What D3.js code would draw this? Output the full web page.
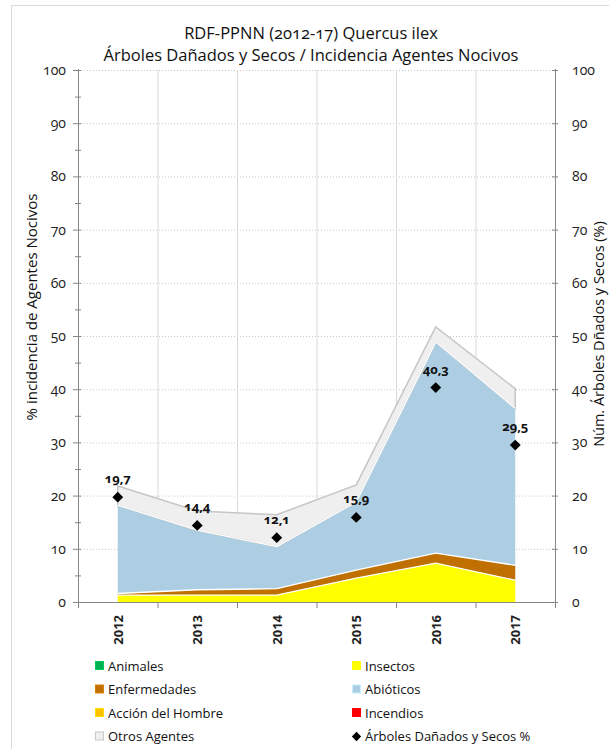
<!DOCTYPE html>
<html>
<head>
<meta charset="utf-8">
<script src="https://cdn.jsdelivr.net/npm/d3@7"></script>
<style>
  html, body { margin: 0; padding: 0; background: #fff; }
  svg { display: block; font-family: "Open Sans", sans-serif; }
  .onum { font-variant-numeric: oldstyle-nums; }
</style>
</head>
<body>
<svg id="chart" width="609" height="749"></svg>
<script>
// ---------- data ----------
const years = ["2012", "2013", "2014", "2015", "2016", "2017"];
const animales     = [0, 0, 0, 0, 0, 0];
const insectos     = [1.3, 1.3, 1.3, 4.5, 7.3, 4.1];
const enfermedades = [0.3, 1.0, 1.2, 1.5, 1.9, 2.8];
const accionHombre = [0, 0, 0, 0, 0, 0];
const incendios    = [0, 0, 0, 0, 0, 0];
const abioticos    = [16.6, 11.2, 7.9, 12.8, 39.7, 29.5];
const otrosAgentes = [3.6, 3.6, 6.0, 3.2, 2.8, 3.7];
const danadosSecos = [19.7, 14.4, 12.1, 15.9, 40.3, 29.5];
const yTickValues  = [0, 10, 20, 30, 40, 50, 60, 70, 80, 90, 100];
const yMinorValues = [5, 15, 25, 35, 45, 55, 65, 75, 85, 95];

const titleLines = ["RDF-PPNN (2012-17) Quercus ilex", "Árboles Dañados y Secos / Incidencia Agentes Nocivos"];
const leftTitle = "% incidencia de Agentes Nocivos";
const rightTitle = "Núm. Árboles Dñados y Secos (%)";

const series = [
  { key: "Animales", values: animales, color: "#00b050" },
  { key: "Insectos", values: insectos, color: "#ffff00" },
  { key: "Enfermedades", values: enfermedades, color: "#c07000" },
  { key: "Acción del Hombre", values: accionHombre, color: "#ffc000" },
  { key: "Incendios", values: incendios, color: "#ff0000" },
  { key: "Abióticos", values: abioticos, color: "#adcee2" },
  { key: "Otros Agentes", values: otrosAgentes, color: "#efefef" }
];
const legendOrder = [
  ["Animales", "Insectos"],
  ["Enfermedades", "Abióticos"],
  ["Acción del Hombre", "Incendios"],
  ["Otros Agentes", "Árboles Dañados y Secos %"]
];

(function () {
// ---------- layout ----------
const svg = d3.select("#chart");
const pLeft = 78, pRight = 555, pTop = 70, pBottom = 602;

// outer border
svg.append("rect").attr("x", 11.5).attr("y", 5.5).attr("width", 700).attr("height", 800)
  .attr("fill", "#fff").attr("stroke", "#d9d9d9");

const x = d3.scaleBand().domain(years).range([pLeft, pRight]).padding(0);
const xc = d => x(d) + x.bandwidth() / 2;
const y = d3.scaleLinear().domain([0, 100]).range([pBottom, pTop]);

// title
svg.append("g").selectAll("text").data(titleLines).join("text")
  .attr("class", "onum")
  .attr("x", 311).attr("y", (d, i) => 39 + i * 22)
  .attr("text-anchor", "middle").attr("font-size", 16.5).attr("fill", "#111")
  .text(d => d);

// gridlines
svg.append("g").selectAll("line").data(yTickValues.filter(v => v > 0)).join("line")
  .attr("x1", pLeft).attr("x2", pRight).attr("y1", d => y(d) + 0.5).attr("y2", d => y(d) + 0.5)
  .attr("stroke", "#c8c8c8").attr("stroke-dasharray", "1,2");
svg.append("g").selectAll("line").data(years.slice(1)).join("line")
  .attr("x1", d => x(d) + 0.5).attr("x2", d => x(d) + 0.5).attr("y1", pTop).attr("y2", pBottom)
  .attr("stroke", "#d9d9d9");

// stacked areas
const table = years.map((yr, i) => {
  const row = { year: yr };
  series.forEach(s => row[s.key] = s.values[i]);
  return row;
});
const stacked = d3.stack().keys(series.map(s => s.key))(table);
const area = d3.area().x(d => xc(d.data.year)).y0(d => y(d[0])).y1(d => y(d[1]));
const topLine = d3.line().x(d => xc(d.data.year)).y(d => y(d[1]));

const gAreas = svg.append("g");
stacked.forEach((layer, i) => {
  const s = series[i];
  if (d3.sum(s.values) === 0) return;
  gAreas.append("path").datum(layer).attr("d", area).attr("fill", s.color)
    .attr("stroke", s.key === "Otros Agentes" ? "#c6c6c6" : "none")
    .attr("stroke-width", 1.5).attr("stroke-linejoin", "miter");
});
stacked.forEach((layer, i) => {
  const s = series[i];
  if (d3.sum(s.values) === 0 || s.key === "Otros Agentes") return;
  gAreas.append("path").datum(layer).attr("d", topLine).attr("fill", "none")
    .attr("stroke", "#fff").attr("stroke-width", 1.3);
});

// axes
const axisColor = "#868686";
const gL = svg.append("g");
gL.append("line").attr("x1", pLeft + 0.5).attr("x2", pLeft + 0.5).attr("y1", pTop - 1).attr("y2", pBottom + 6)
  .attr("stroke", axisColor);
gL.selectAll(".maj").data(yTickValues).join("line").attr("class", "maj")
  .attr("x1", pLeft - 5).attr("x2", pLeft + 3).attr("y1", d => y(d) + 0.5).attr("y2", d => y(d) + 0.5)
  .attr("stroke", axisColor);
gL.selectAll(".min").data(yMinorValues).join("line").attr("class", "min")
  .attr("x1", pLeft - 3).attr("x2", pLeft + 3).attr("y1", d => y(d) + 0.5).attr("y2", d => y(d) + 0.5)
  .attr("stroke", axisColor);
gL.selectAll("text").data(yTickValues).join("text")
  .attr("class", "onum")
  .attr("x", pLeft - 12).attr("y", d => y(d)).attr("dy", "0.35em").attr("text-anchor", "end")
  .attr("font-size", 14).attr("fill", "#222").text(d => d);

const gR = svg.append("g");
gR.append("line").attr("x1", pRight + 0.5).attr("x2", pRight + 0.5).attr("y1", pTop - 1).attr("y2", pBottom + 6)
  .attr("stroke", axisColor);
gR.selectAll("line.t").data(yTickValues).join("line").attr("class", "t")
  .attr("x1", pRight - 3).attr("x2", pRight + 3).attr("y1", d => y(d) + 0.5).attr("y2", d => y(d) + 0.5)
  .attr("stroke", axisColor);
gR.selectAll("text").data(yTickValues).join("text")
  .attr("class", "onum")
  .attr("x", pRight + 17).attr("y", d => y(d)).attr("dy", "0.35em").attr("text-anchor", "start")
  .attr("font-size", 14).attr("fill", "#222").text(d => d);

const gB = svg.append("g");
gB.append("line").attr("x1", pLeft).attr("x2", pRight + 1).attr("y1", pBottom + 0.5).attr("y2", pBottom + 0.5)
  .attr("stroke", axisColor);
gB.selectAll("line.t").data(years.slice(1)).join("line").attr("class", "t")
  .attr("x1", d => x(d) + 0.5).attr("x2", d => x(d) + 0.5).attr("y1", pBottom).attr("y2", pBottom + 6)
  .attr("stroke", axisColor);
gB.selectAll("text").data(years).join("text")
  .attr("transform", d => `translate(${xc(d) + 5},${pBottom + 13}) rotate(-90)`)
  .attr("text-anchor", "end").attr("font-size", 13).attr("font-weight", "bold").attr("fill", "#222")
  .text(d => d);

// axis titles
svg.append("text").attr("transform", `translate(37,307) rotate(-90)`)
  .attr("text-anchor", "middle").attr("font-size", 15).attr("fill", "#111").text(leftTitle);
svg.append("text").attr("transform", `translate(604,334) rotate(-90)`)
  .attr("text-anchor", "middle").attr("font-size", 14.5).attr("fill", "#111").text(rightTitle);

// diamonds + labels
const gD = svg.append("g");
gD.selectAll("path").data(danadosSecos).join("path")
  .attr("transform", (d, i) => `translate(${xc(years[i])},${y(d)})`)
  .attr("d", d3.symbol(d3.symbolDiamond2, 75))
  .attr("fill", "#000");
gD.selectAll("text").data(danadosSecos).join("text")
  .attr("class", "onum")
  .attr("x", (d, i) => xc(years[i])).attr("y", d => y(d) - 14)
  .attr("text-anchor", "middle").attr("font-size", 13).attr("font-weight", "bold").attr("fill", "#111")
  .text(d => d3.format(".1f")(d).replace(".", ","));

// legend
const colorOf = k => (series.find(s => s.key === k) || {}).color;
const gLeg = svg.append("g").attr("font-size", 13).attr("fill", "#111");
const colX = [95, 352];
legendOrder.forEach((row, r) => {
  row.forEach((k, c) => {
    const cy = 666 + r * 23.5;
    const g = gLeg.append("g").attr("transform", `translate(${colX[c]},${cy})`);
    if (k === "Árboles Dañados y Secos %") {
      g.append("path").attr("transform", "translate(4.5,0)").attr("d", d3.symbol(d3.symbolDiamond2, 55)).attr("fill", "#000");
    } else {
      g.append("rect").attr("x", 0.5).attr("y", -4.5).attr("width", 8).attr("height", 8)
        .attr("fill", colorOf(k))
        .attr("stroke", k === "Otros Agentes" ? "#c8c8c8" : d3.color(colorOf(k)).brighter(0.4))
        .attr("stroke-width", 1);
    }
    g.append("text").attr("x", 13).attr("dy", "0.35em").text(k);
  });
});
})();
</script>
</body>
</html>
